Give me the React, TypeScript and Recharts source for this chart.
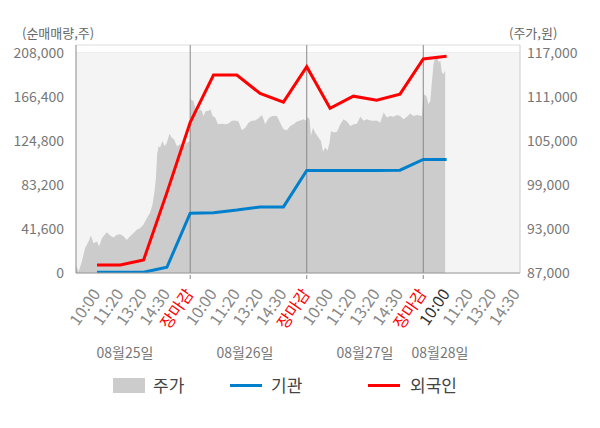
import React from 'react';
import {
  ComposedChart,
  Area,
  Line,
  XAxis,
  YAxis,
  CartesianGrid,
  ReferenceLine,
  ReferenceArea,
} from 'recharts';

// x is measured in tick slots: 1 = day 1 10:00, 5 = day 1 close, ...
const timeLabels = [
  '10:00', '11:20', '13:20', '14:30', '장마감',
  '10:00', '11:20', '13:20', '14:30', '장마감',
  '10:00', '11:20', '13:20', '14:30', '장마감',
  '10:00', '11:20', '13:20', '14:30',
];
const dayLabels = ['08월25일', '08월26일', '08월27일', '08월28일'];

// net buying (shares), one value per slot from slot 1
const instFlow = [
  700, 700, 700, 5400, 56500,
  57000, 59500, 62500, 62500, 96900,
  96900, 96900, 96900, 97200, 107300,
  107300,
];
const foreignFlow = [
  7600, 7600, 12300, 76000, 142500,
  187100, 187100, 169700, 161600, 195000,
  155800, 167200, 163400, 169100, 202300,
  204900,
];

// intraday price (won)
const priceSlots = [
  0.1, 0.21, 0.35, 0.49, 0.64, 0.74, 0.85, 1.0, 1.09, 1.21, 1.42, 1.57, 1.71, 1.85, 2.0,
  2.14, 2.28, 2.42, 2.57, 2.71, 2.85, 3.0, 3.14, 3.28, 3.38, 3.47, 3.53, 3.58, 3.64, 3.71,
  3.81, 3.9, 4.0, 4.11, 4.21, 4.31, 4.43, 4.57, 4.71, 4.86, 4.98,
  5.02, 5.14, 5.29, 5.39, 5.5, 5.57, 5.67, 5.79, 5.86, 5.96, 6.07, 6.19, 6.36, 6.5, 6.64,
  6.79, 6.93, 7.07, 7.22, 7.36, 7.5, 7.65, 7.79, 7.93, 8.08, 8.22, 8.36, 8.51, 8.72, 8.86,
  9.0, 9.15, 9.29, 9.43, 9.58, 9.72, 9.86, 9.98,
  10.03, 10.12, 10.18, 10.27, 10.36, 10.51, 10.61, 10.7, 10.79, 10.89, 10.98, 11.04, 11.15,
  11.3, 11.44, 11.58, 11.73, 11.87, 12.01, 12.15, 12.3, 12.44, 12.58, 12.73, 12.87, 13.01,
  13.15, 13.3, 13.44, 13.58, 13.73, 13.87, 14.01, 14.15, 14.3, 14.44, 14.58, 14.73, 14.94,
  15.01, 15.13, 15.23, 15.3, 15.37, 15.44, 15.51, 15.59, 15.66, 15.73, 15.8, 15.87, 15.94,
];
const prices = [
  88000, 87200, 88550, 90400, 91300, 92100, 91050, 91300, 90600, 91750, 92550, 92100, 91850, 92200, 92300,
  92000, 91500, 92000, 92450, 92900, 93100, 93600, 94500, 95200, 96300, 98150, 99950, 103150, 104300, 104100,
  105000, 104300, 104750, 106000, 105450, 105200, 104300, 104550, 104300, 104750, 105000,
  110700, 110450, 108650, 109350, 109100, 108400, 109100, 109100, 109350, 108400, 108200, 107300, 107350, 107300, 107400,
  107750, 107800, 107650, 106450, 106800, 107500, 107750, 107800, 108100, 108550, 107300, 108100, 108400, 108400, 107500,
  106600, 106450, 107050, 107300, 107650, 107800, 107950, 107750,
  108300, 107950, 105700, 106800, 106150, 105450, 105000, 103550, 104100, 103700, 104750, 106350, 106150,
  106250, 107300, 107950, 107650, 107050, 107300, 107350, 108300, 107750, 107950, 107800, 107750, 107800,
  107500, 108900, 108200, 108400, 108300, 108550, 108400, 107950, 108300, 108750, 108400, 108550, 108400,
  111400, 111150, 110000, 110450, 113000, 115500, 116400, 116650, 115750, 115950, 114350, 114150, 114650,
];

const leftTicks = [0, 41600, 83200, 124800, 166400, 208000];
const rightTicks = [87000, 93000, 99000, 105000, 111000, 117000];
const dayCloseSlots = [5, 10, 15];

const rows: any[] = [
  ...priceSlots.map((x, i) => ({ x, price: prices[i] })),
  ...instFlow.map((v, i) => ({ x: i + 1, inst: v, foreign: foreignFlow[i] })),
].sort((a, b) => a.x - b.x);

const FONT = '"Noto Sans CJK KR", "Noto Sans", sans-serif';
const fmt = (v: number) => v.toLocaleString('en-US');

const XTick: React.FC<any> = ({ x, y, payload }) => {
  const i = Math.round(payload.value) - 1;
  const label = timeLabels[i];
  const color = label === '장마감' ? '#ff0000' : i === 15 ? '#333333' : '#888888';
  return (
    <g transform={`translate(${x},${y})`}>
      {dayCloseSlots.includes(i + 1) && <line x1={0} x2={0} y1={0} y2={4} stroke="#888" />}
      <text
        transform="translate(4,19) rotate(-55)"
        textAnchor="end"
        fill={color}
        fontSize={16}
        fontFamily={FONT}
      >
        {label}
      </text>
    </g>
  );
};

const App: React.FC = () => {
  return (
    <div style={{ position: 'absolute', left: 0, top: 0, width: 600, height: 428, background: '#fff', fontFamily: FONT }}>
      <div style={{ position: 'absolute', left: 22, top: 23, fontSize: 13, color: '#666' }}>(순매매량,주)</div>
      <div style={{ position: 'absolute', left: 509, top: 23, fontSize: 13, color: '#666' }}>(주가,원)</div>

      <ComposedChart width={600} height={428} data={rows} margin={{ top: 45, right: 0, bottom: 95, left: 0 }}>
        <ReferenceArea
          yAxisId="left"
          x1={0.1}
          x2={19.15}
          y1={0}
          y2={208000}
          fill="#f4f4f4"
          fillOpacity={1}
          stroke="none"
        />
        <CartesianGrid yAxisId="left" vertical={false} stroke="#dddddd" />
        <XAxis
          dataKey="x"
          type="number"
          domain={[0.1, 19.15]}
          allowDataOverflow
          ticks={timeLabels.map((_, i) => i + 1)}
          interval={0}
          tick={<XTick />}
          tickLine={false}
          tickSize={0}
          axisLine={{ stroke: '#999' }}
          height={60}
        />
        <YAxis
          yAxisId="left"
          domain={[0, 215564]}
          allowDataOverflow
          ticks={leftTicks}
          tickFormatter={fmt}
          tick={{ fill: '#777', fontSize: 14, fontFamily: FONT }}
          tickLine={false}
          tickSize={0}
          tickMargin={12}
          axisLine={{ stroke: '#888' }}
          width={76}
        />
        <YAxis
          yAxisId="right"
          orientation="right"
          domain={[87000, 118091]}
          allowDataOverflow
          ticks={rightTicks}
          tickFormatter={fmt}
          tick={{ fill: '#777', fontSize: 14, fontFamily: FONT, textAnchor: 'start' }}
          tickLine={false}
          tickSize={0}
          tickMargin={7}
          axisLine={{ stroke: '#cccccc' }}
          width={80}
        />
        <Area
          yAxisId="right"
          type="linear"
          dataKey="price"
          stroke="none"
          fill="#cccccc"
          fillOpacity={1}
          connectNulls
          dot={false}
          activeDot={false}
          isAnimationActive={false}
        />
        {dayCloseSlots.map((s) => (
          <ReferenceLine key={s} yAxisId="left" x={s} stroke="#888888" />
        ))}
        <Line
          yAxisId="left"
          type="linear"
          dataKey="inst"
          stroke="#0080cc"
          strokeWidth={3}
          connectNulls
          dot={false}
          activeDot={false}
          isAnimationActive={false}
        />
        <Line
          yAxisId="left"
          type="linear"
          dataKey="foreign"
          stroke="#ff0000"
          strokeWidth={3}
          connectNulls
          dot={false}
          activeDot={false}
          isAnimationActive={false}
        />
      </ComposedChart>

      {dayLabels.map((d, i) => (
        <div
          key={d}
          style={{
            position: 'absolute',
            left: [125, 245, 365, 440][i] - 40,
            width: 80,
            top: 342,
            textAlign: 'center',
            fontSize: 14,
            color: '#777',
          }}
        >
          {d}
        </div>
      ))}

      <div style={{ position: 'absolute', left: 0, top: 373, width: 600, height: 24, fontSize: 17, color: '#444' }}>
        <div style={{ position: 'absolute', left: 113, top: 5, width: 32, height: 15, background: '#cccccc' }} />
        <div style={{ position: 'absolute', left: 153, top: 0, lineHeight: '24px' }}>주가</div>
        <div style={{ position: 'absolute', left: 230, top: 11, width: 32, height: 3, background: '#0080cc' }} />
        <div style={{ position: 'absolute', left: 271, top: 0, lineHeight: '24px' }}>기관</div>
        <div style={{ position: 'absolute', left: 368, top: 11, width: 32, height: 3, background: '#ff0000' }} />
        <div style={{ position: 'absolute', left: 410, top: 0, lineHeight: '24px' }}>외국인</div>
      </div>
    </div>
  );
};

export default App;
